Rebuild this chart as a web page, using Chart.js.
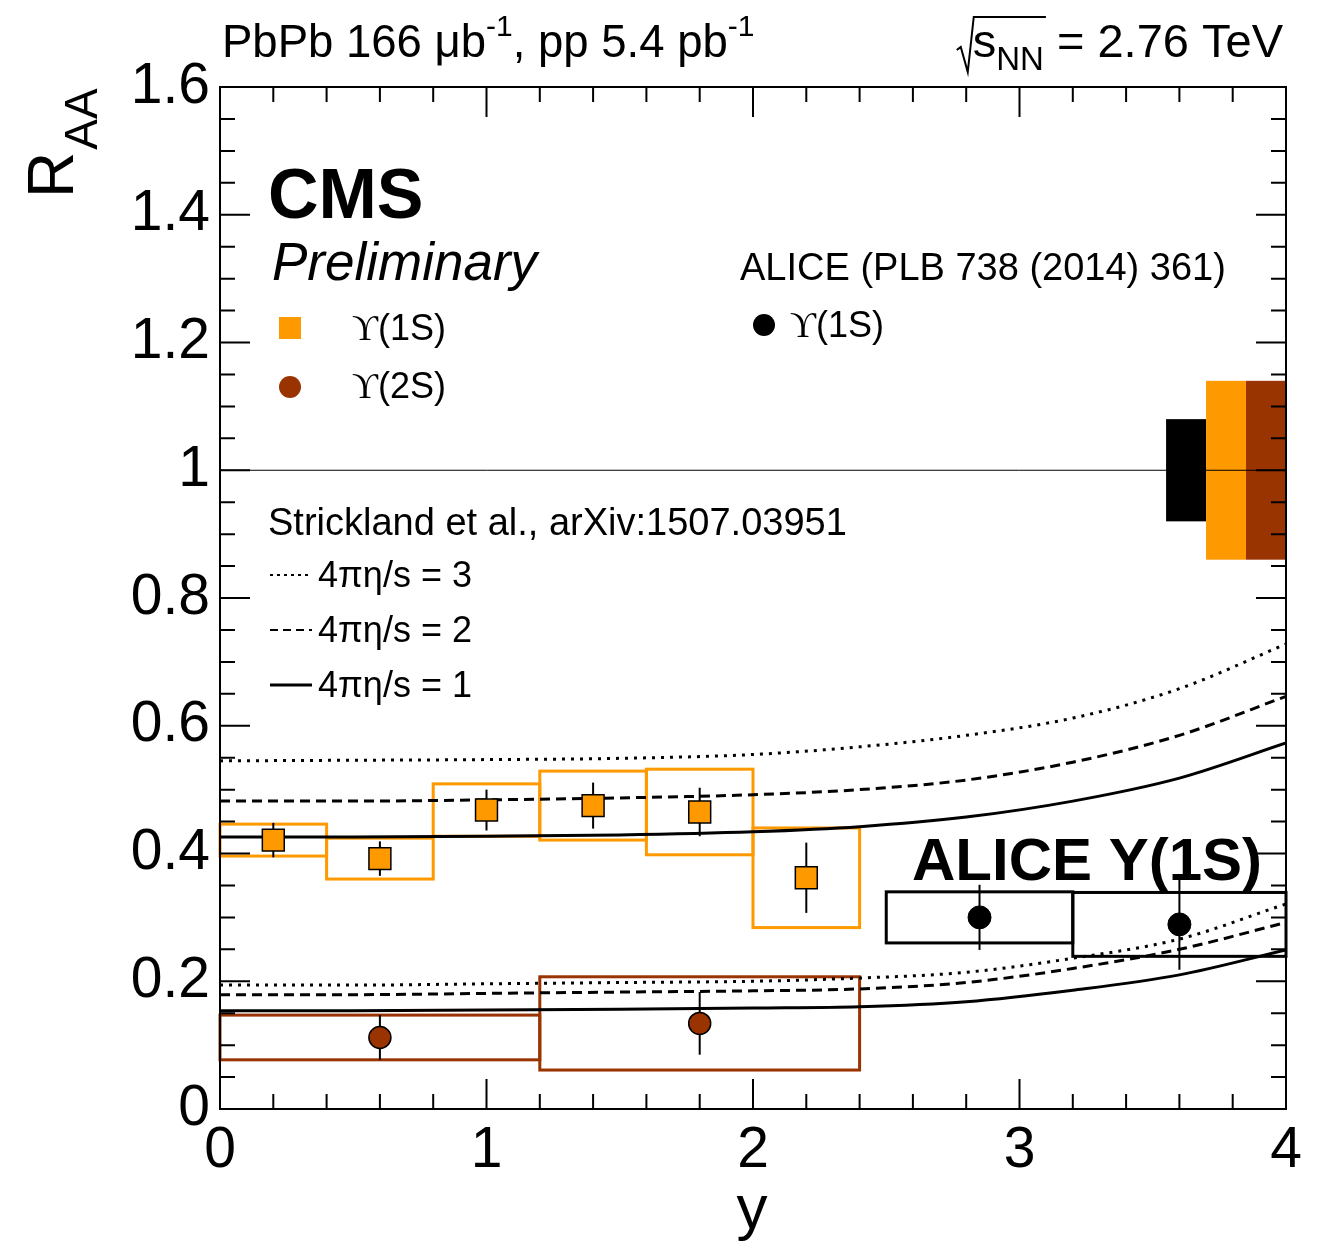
<!DOCTYPE html>
<html lang="en">
<head>
    <meta charset="UTF-8">
    <title>Upsilon RAA vs rapidity</title>
    <script src="https://cdn.jsdelivr.net/npm/chart.js"></script>
    <style>
        body {
            margin: 0;
            padding: 0;
            background-color: white;
        }
        #chartBox {
            width: 1326px;
            height: 1244px;
        }
    </style>
</head>
<body>
    <div id="chartBox">
        <canvas id="raaChart" width="1326" height="1244"></canvas>
    </div>
    <script>
        // CMS Upsilon(1S), bins of 0.4 in |y|
        const ups1sY = [0.2, 0.6, 1.0, 1.4, 1.8, 2.2];
        const ups1sLo = [0.0, 0.4, 0.8, 1.2, 1.6, 2.0];
        const ups1sHi = [0.4, 0.8, 1.2, 1.6, 2.0, 2.4];
        const ups1sRaa = [0.421, 0.392, 0.468, 0.475, 0.465, 0.362];
        const ups1sStat = [0.027, 0.027, 0.032, 0.036, 0.038, 0.055];
        const ups1sSyst = [0.025, 0.032, 0.041, 0.054, 0.067, 0.078];

        // CMS Upsilon(2S)
        const ups2sY = [0.6, 1.8];
        const ups2sLo = [0.0, 1.2];
        const ups2sHi = [1.2, 2.4];
        const ups2sRaa = [0.112, 0.134];
        const ups2sStat = [0.035, 0.049];
        const ups2sSyst = [0.035, 0.073];

        // ALICE Upsilon(1S)
        const aliceY = [2.85, 3.6];
        const aliceLo = [2.5, 3.2];
        const aliceHi = [3.2, 4.0];
        const aliceRaa = [0.300, 0.289];
        const aliceStat = [0.051, 0.071];
        const aliceSyst = [0.040, 0.050];

        // global uncertainties around 1 (ALICE, CMS 1S, CMS 2S)
        const globalLo = [3.55, 3.70, 3.85];
        const globalHi = [3.70, 3.85, 4.00];
        const globalErr = [0.08, 0.14, 0.14];
        const globalColor = ["#000000", "#ff9900", "#993300"];

        // Strickland et al. curves
        const curveY = [0, 0.5, 1.0, 1.5, 2.0, 2.4, 2.8, 3.2, 3.6, 4.0];
        const eta3_1s = [0.545, 0.546, 0.547, 0.549, 0.555, 0.567, 0.585, 0.612, 0.658, 0.728];
        const eta2_1s = [0.482, 0.482, 0.484, 0.487, 0.492, 0.500, 0.515, 0.543, 0.585, 0.646];
        const eta1_1s = [0.426, 0.426, 0.427, 0.429, 0.434, 0.442, 0.457, 0.482, 0.518, 0.573];
        const eta3_2s = [0.194, 0.194, 0.196, 0.198, 0.200, 0.205, 0.214, 0.236, 0.266, 0.321];
        const eta2_2s = [0.179, 0.179, 0.181, 0.183, 0.185, 0.188, 0.198, 0.220, 0.250, 0.292];
        const eta1_2s = [0.154, 0.154, 0.155, 0.156, 0.158, 0.160, 0.168, 0.186, 0.210, 0.249];

        const xTickLabels = ["0", "1", "2", "3", "4"];
        const yTickLabels = ["0", "0.2", "0.4", "0.6", "0.8", "1", "1.2", "1.4", "1.6"];

        const ORANGE = "#ff9900";
        const BROWN = "#993300";
        const SANS = "'Liberation Sans', Arial, sans-serif";
        const UPS = "'Liberation Serif', 'DejaVu Serif', serif";

        function pts(xs, ys) {
            return xs.map((v, i) => ({ x: v, y: ys[i] }));
        }

        function curve(ys, dash) {
            return {
                data: pts(curveY, ys),
                showLine: true,
                borderColor: "#000",
                borderWidth: 3,
                borderDash: dash,
                pointRadius: 0,
                cubicInterpolationMode: "monotone",
                order: 4
            };
        }

        // draws text pieces one after another, with sub/superscripts
        function richText(ctx, x, y, parts) {
            let cx = x;
            parts.forEach(p => {
                ctx.font = p.font;
                ctx.fillText(p.t, cx, y + (p.dy || 0));
                cx += ctx.measureText(p.t).width;
            });
            return cx;
        }

        const hepPlugin = {
            id: "hepPlugin",
            beforeDatasetsDraw(chart) {
                const ctx = chart.ctx;
                const xs = chart.scales.x;
                const ys = chart.scales.y;
                ctx.save();

                // global uncertainty boxes
                for (let i = 0; i < globalLo.length; i++) {
                    const l = xs.getPixelForValue(globalLo[i]);
                    const r = xs.getPixelForValue(globalHi[i]);
                    const t = ys.getPixelForValue(1 + globalErr[i]);
                    const b = ys.getPixelForValue(1 - globalErr[i]);
                    ctx.fillStyle = globalColor[i];
                    ctx.fillRect(l, t, r - l, b - t);
                }

                // systematic boxes
                function boxes(lo, hi, raa, syst, color) {
                    ctx.strokeStyle = color;
                    ctx.lineWidth = 3;
                    for (let i = 0; i < lo.length; i++) {
                        const l = xs.getPixelForValue(lo[i]);
                        const r = xs.getPixelForValue(hi[i]);
                        const t = ys.getPixelForValue(raa[i] + syst[i]);
                        const b = ys.getPixelForValue(raa[i] - syst[i]);
                        ctx.strokeRect(l, t, r - l, b - t);
                    }
                }
                boxes(ups1sLo, ups1sHi, ups1sRaa, ups1sSyst, ORANGE);
                boxes(ups2sLo, ups2sHi, ups2sRaa, ups2sSyst, BROWN);
                boxes(aliceLo, aliceHi, aliceRaa, aliceSyst, "#000");

                // statistical error bars
                function errs(yv, raa, stat) {
                    ctx.strokeStyle = "#000";
                    ctx.lineWidth = 2;
                    for (let i = 0; i < yv.length; i++) {
                        const px = xs.getPixelForValue(yv[i]);
                        ctx.beginPath();
                        ctx.moveTo(px, ys.getPixelForValue(raa[i] + stat[i]));
                        ctx.lineTo(px, ys.getPixelForValue(raa[i] - stat[i]));
                        ctx.stroke();
                    }
                }
                errs(ups1sY, ups1sRaa, ups1sStat);
                errs(ups2sY, ups2sRaa, ups2sStat);
                errs(aliceY, aliceRaa, aliceStat);
                ctx.restore();
            },
            afterDraw(chart) {
                const ctx = chart.ctx;
                const xs = chart.scales.x;
                const ys = chart.scales.y;
                const a = chart.chartArea;
                ctx.save();
                ctx.strokeStyle = "#000";
                ctx.lineWidth = 2;
                ctx.strokeRect(a.left, a.top, a.right - a.left, a.bottom - a.top);

                // ticks on all four sides, pointing inwards
                ctx.beginPath();
                for (let v = 0; v <= 4.0001; v += 0.2) {
                    const major = Math.abs(v - Math.round(v)) < 1e-6;
                    const len = major ? 30 : 15;
                    const px = xs.getPixelForValue(v);
                    ctx.moveTo(px, a.bottom); ctx.lineTo(px, a.bottom - len);
                    ctx.moveTo(px, a.top); ctx.lineTo(px, a.top + len);
                }
                for (let k = 0; k <= 32; k++) {
                    const v = k * 0.05;
                    const len = k % 4 === 0 ? 30 : 15;
                    const py = ys.getPixelForValue(v);
                    ctx.moveTo(a.left, py); ctx.lineTo(a.left + len, py);
                    ctx.moveTo(a.right, py); ctx.lineTo(a.right - len, py);
                }
                ctx.stroke();

                ctx.fillStyle = "#000";
                ctx.textBaseline = "alphabetic";
                ctx.textAlign = "left";

                // axis titles
                ctx.font = "62px " + SANS;
                ctx.textAlign = "center";
                ctx.fillText("y", 752, 1228);
                ctx.textAlign = "left";
                ctx.save();
                ctx.translate(73, 198);
                ctx.rotate(-Math.PI / 2);
                ctx.font = "64px " + SANS;
                ctx.fillText("R", 0, 0);
                const rw = ctx.measureText("R").width;
                ctx.font = "46px " + SANS;
                ctx.fillText("AA", rw + 2, 24);
                ctx.restore();

                // top labels
                const fTop = "45.5px " + SANS;
                const fSup = "30px " + SANS;
                richText(ctx, 222, 57, [
                    { t: "PbPb 166 \u03bcb", font: fTop },
                    { t: "-1", font: fSup, dy: -21 },
                    { t: ", pp 5.4 pb", font: fTop },
                    { t: "-1", font: fSup, dy: -21 }
                ]);
                const fR = "47px " + SANS;
                const fNN = "33px " + SANS;
                ctx.font = fR;
                const rhs = " = 2.76 TeV";
                const rhsW = ctx.measureText(rhs).width;
                ctx.font = fNN;
                const nnW = ctx.measureText("NN").width;
                ctx.font = fR;
                const sW = ctx.measureText("s").width;
                const sx = 1283 - rhsW - nnW - sW;
                richText(ctx, sx, 57, [
                    { t: "s", font: fR },
                    { t: "NN", font: fNN, dy: 13 },
                    { t: rhs, font: fR }
                ]);
                ctx.lineWidth = 2;
                ctx.beginPath();
                ctx.moveTo(sx - 16, 50);
                ctx.lineTo(sx - 12, 47);
                ctx.lineTo(sx - 5, 72);
                ctx.lineTo(sx + 1, 17);
                ctx.lineTo(sx + sW + nnW + 2, 17);
                ctx.stroke();

                // CMS label
                ctx.font = "bold 70px " + SANS;
                ctx.fillText("CMS", 268, 218);
                ctx.font = "italic 53px " + SANS;
                ctx.fillText("Preliminary", 272, 280);

                // CMS legend
                ctx.fillStyle = ORANGE;
                ctx.fillRect(279, 317, 22, 22);
                ctx.fillStyle = BROWN;
                ctx.beginPath();
                ctx.arc(290, 387, 11, 0, Math.PI * 2);
                ctx.fill();
                ctx.fillStyle = "#000";
                const f36 = "36px " + SANS;
                const f38 = "38px " + SANS;
                const u36 = "36px " + UPS;
                richText(ctx, 352, 340, [{ t: "\u03d2", font: u36 }, { t: "(1S)", font: f36 }]);
                richText(ctx, 352, 398, [{ t: "\u03d2", font: u36 }, { t: "(2S)", font: f36 }]);

                // ALICE legend
                ctx.font = f38;
                ctx.fillText("ALICE (PLB 738 (2014) 361)", 740, 280);
                ctx.beginPath();
                ctx.arc(764, 325, 11, 0, Math.PI * 2);
                ctx.fill();
                richText(ctx, 790, 337, [{ t: "\u03d2", font: u36 }, { t: "(1S)", font: f36 }]);

                // theory legend
                ctx.font = f38;
                ctx.fillText("Strickland et al., arXiv:1507.03951", 268, 535);
                const rows = [
                    { dash: [3, 4], y: 575, txt: "4\u03c0\u03b7/s = 3" },
                    { dash: [8, 5], y: 630, txt: "4\u03c0\u03b7/s = 2" },
                    { dash: [], y: 685, txt: "4\u03c0\u03b7/s = 1" }
                ];
                rows.forEach(r => {
                    ctx.setLineDash(r.dash);
                    ctx.lineWidth = r.dash.length ? 2 : 3;
                    ctx.beginPath();
                    ctx.moveTo(270, r.y);
                    ctx.lineTo(312, r.y);
                    ctx.stroke();
                    ctx.setLineDash([]);
                    ctx.font = f36;
                    ctx.fillText(r.txt, 318, r.y + 12);
                });

                ctx.font = "bold 60px " + SANS;
                ctx.fillText("ALICE Y(1S)", 912, 880);
                ctx.restore();
            }
        };

        Chart.defaults.font.family = SANS;
        Chart.defaults.color = "#000";

        new Chart(document.getElementById("raaChart"), {
            type: "scatter",
            data: {
                datasets: [
                    {
                        label: "unity",
                        data: [{ x: 0, y: 1 }, { x: 4, y: 1 }],
                        showLine: true,
                        borderColor: "#000",
                        borderWidth: 1,
                        pointRadius: 0,
                        order: 5
                    },
                    curve(eta3_1s, [3, 6]),
                    curve(eta2_1s, [10, 6]),
                    curve(eta1_1s, []),
                    curve(eta3_2s, [3, 6]),
                    curve(eta2_2s, [10, 6]),
                    curve(eta1_2s, []),
                    {
                        label: "CMS Y(1S)",
                        data: pts(ups1sY, ups1sRaa),
                        pointStyle: "rect",
                        pointRadius: 15.5,
                        backgroundColor: ORANGE,
                        borderColor: "#000",
                        borderWidth: 1.5,
                        order: 1
                    },
                    {
                        label: "CMS Y(2S)",
                        data: pts(ups2sY, ups2sRaa),
                        pointStyle: "circle",
                        pointRadius: 11,
                        backgroundColor: BROWN,
                        borderColor: "#000",
                        borderWidth: 1.5,
                        order: 2
                    },
                    {
                        label: "ALICE Y(1S)",
                        data: pts(aliceY, aliceRaa),
                        pointStyle: "circle",
                        pointRadius: 11.5,
                        backgroundColor: "#000",
                        borderColor: "#000",
                        borderWidth: 1,
                        order: 3
                    }
                ]
            },
            options: {
                responsive: false,
                animation: false,
                devicePixelRatio: 1,
                events: [],
                layout: { padding: { top: 87, right: 40, left: 0, bottom: 0 } },
                plugins: {
                    legend: { display: false },
                    tooltip: { enabled: false }
                },
                scales: {
                    x: {
                        type: "linear",
                        min: 0,
                        max: 4,
                        grid: { display: false, drawTicks: false },
                        border: { display: false },
                        ticks: {
                            stepSize: 1,
                            padding: 8,
                            maxRotation: 0,
                            font: { size: 57 },
                            callback: (v, i) => xTickLabels[i]
                        },
                        afterFit: s => { s.height = 135; }
                    },
                    y: {
                        min: 0,
                        max: 1.6,
                        grid: { display: false, drawTicks: false },
                        border: { display: false },
                        ticks: {
                            stepSize: 0.2,
                            padding: 10,
                            font: { size: 57 },
                            callback: (v, i) => yTickLabels[i]
                        },
                        afterFit: s => { s.width = 220; }
                    }
                }
            },
            plugins: [hepPlugin]
        });
    </script>
</body>
</html>
